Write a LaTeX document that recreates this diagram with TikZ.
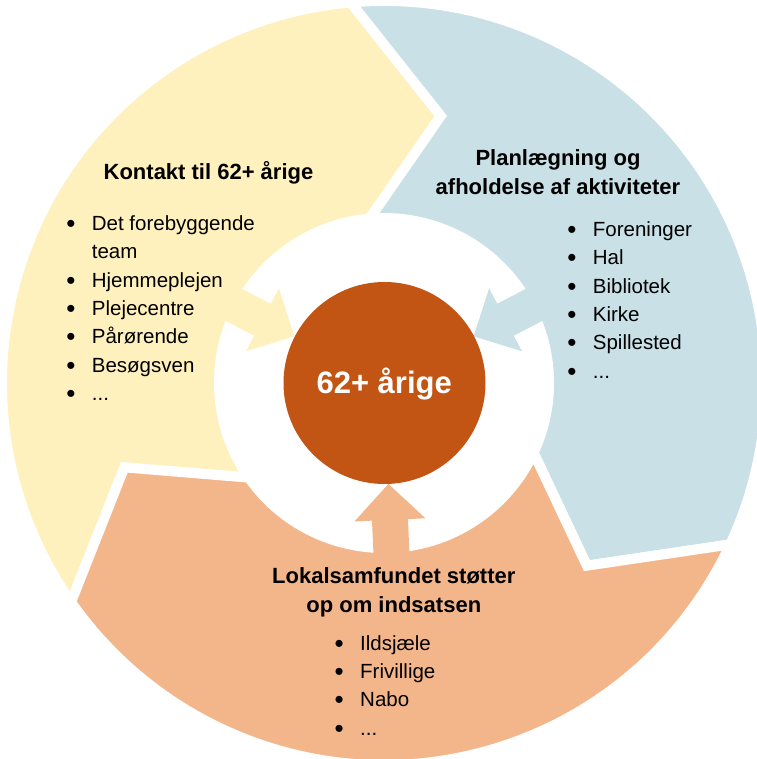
\documentclass[tikz,border=0pt]{standalone}
\usepackage{fontspec}
\setmainfont{Liberation Sans}
\definecolor{kontakt}{HTML}{FFF1BD}
\definecolor{plan}{HTML}{C9E0E6}
\definecolor{lokal}{HTML}{F3B68B}
\definecolor{hubc}{HTML}{C25514}
\tikzset{
  head/.style={font=\bfseries\fontsize{22}{29}\selectfont, align=center, inner sep=0pt, anchor=base},
  items/.style={font=\fontsize{20.5}{28.3}\selectfont, align=left, inner sep=0pt, anchor=base west},
}
\newcommand{\blt}{\makebox[25.5pt][l]{\raisebox{-2pt}{\fontsize{26}{26}\selectfont\textbullet}}}
\newcommand{\nblt}{\makebox[25.5pt][l]{}}

\begin{document}
\begin{tikzpicture}[x=1pt, y=1pt]
\def\rout{382}
\def\rin{165}
\def\rmid{273}
\def\tip{17}
\useasboundingbox (-384,-376) rectangle (372,383);

% ring of three chevrons, clockwise
\foreach \col/\a/\b in {kontakt/215/95, plan/95/-25, lokal/335/215}{
  \filldraw[fill=\col, draw=white, line width=10pt]
    (\a:\rout) arc[start angle=\a, end angle=\b, radius=\rout pt]
    -- ({\b-\tip}:\rmid) -- (\b:\rin)
    arc[start angle=\b, end angle=\a, radius=\rin pt]
    -- ({\a-\tip}:\rmid) -- cycle;
}

% arrows into the middle
\foreach \col/\ang in {kontakt/152.5, plan/27.5, lokal/272.5}
  \fill[\col, rotate=\ang] (101,0) -- (137,35.5) -- (137,18) -- (185,18)
    -- (185,-18) -- (137,-18) -- (137,-35.5) -- cycle;

\node[circle, fill=hubc, minimum size=202pt, inner sep=0pt] (mid) at (0.5,0) {};
\node[anchor=base, text=white, font=\bfseries\fontsize{31}{31}\selectfont] (midtxt) at (0.2,-10.3) {62+ årige};

% titles (base = last line)
\node[head] (ktitle) at (-175.5,203.7) {Kontakt til 62+ årige};
\node[head] (ptitle) at (174,188) {Planlægning og\\afholdelse af aktiviteter};
\node[head] (ltitle) at (9.8,-229) {Lokalsamfundet støtter\\op om indsatsen};

% lists
\node[items] (klist) at (-317.8,-17.5) {\blt Det forebyggende\\\nblt team\\\blt Hjemmeplejen\\\blt Plejecentre\\\blt Pårørende\\\blt Besøgsven\\\blt ...};
\node[items] (plist) at (183.2,4.8) {\blt Foreninger\\\blt Hal\\\blt Bibliotek\\\blt Kirke\\\blt Spillested\\\blt ...};
\node[items] (llist) at (-49.5,-352) {\blt Ildsjæle\\\blt Frivillige\\\blt Nabo\\\blt ...};
\end{tikzpicture}
\end{document}
